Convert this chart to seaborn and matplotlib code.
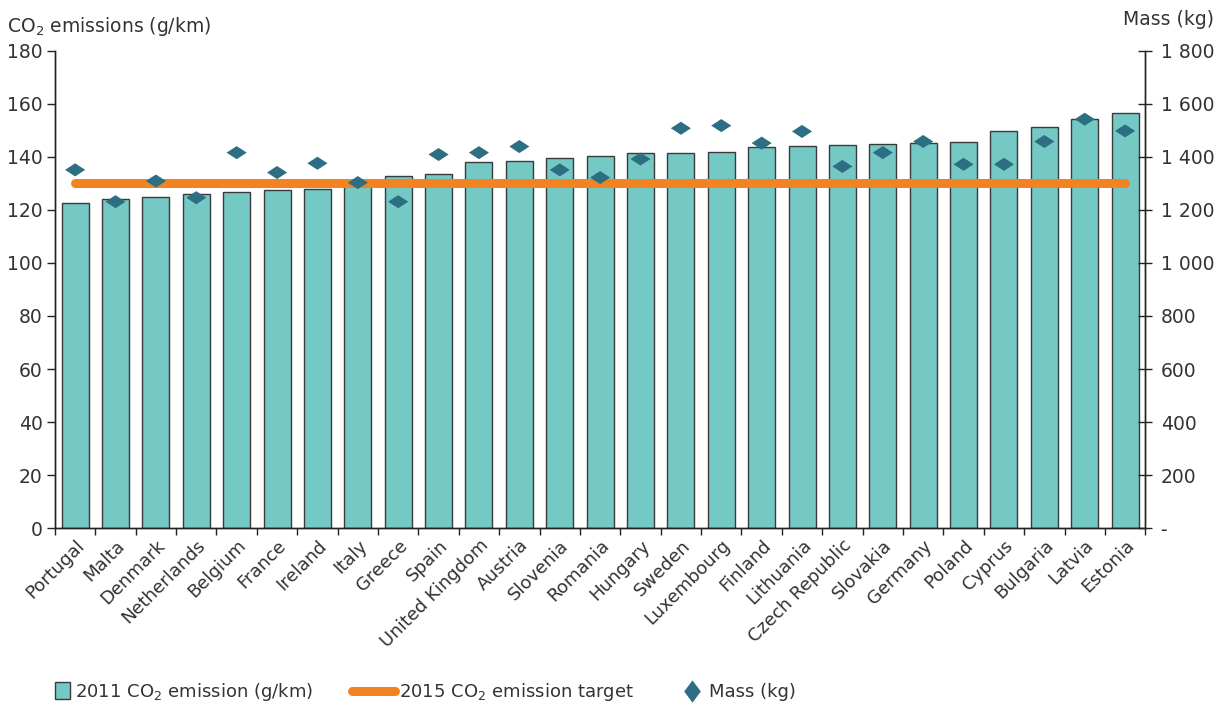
import numpy as np
import pandas as pd
import matplotlib
matplotlib.use('Agg')
import matplotlib.pyplot as plt
import seaborn as sns
from matplotlib.ticker import FixedLocator, FuncFormatter

countries = ['Portugal', 'Malta', 'Denmark', 'Netherlands', 'Belgium', 'France',
             'Ireland', 'Italy', 'Greece', 'Spain', 'United Kingdom', 'Austria',
             'Slovenia', 'Romania', 'Hungary', 'Sweden', 'Luxembourg', 'Finland',
             'Lithuania', 'Czech Republic', 'Slovakia', 'Germany', 'Poland',
             'Cyprus', 'Bulgaria', 'Latvia', 'Estonia']
co2_2011 = [122.5, 124.3, 124.8, 125.9, 126.9, 127.4, 127.9, 129.4, 132.8, 133.5,
            137.9, 138.5, 139.5, 140.5, 141.5, 141.6, 141.9, 143.8, 144.0, 144.3,
            144.7, 145.4, 145.8, 149.6, 151.1, 154.2, 156.5]
mass_kg = [1351, 1231, 1309, 1246, 1416, 1341, 1376, 1303, 1231, 1409,
           1416, 1439, 1351, 1322, 1392, 1508, 1518, 1452, 1496, 1364,
           1416, 1458, 1372, 1372, 1458, 1542, 1498]
target_2015 = 130

df = pd.DataFrame({'country': countries, 'co2': co2_2011, 'mass': mass_kg})

sns.set_style('white')
plt.rcParams['font.family'] = ['DejaVu Sans']
txt = '#333333'
bar_col = '#74C9C5'
line_col = '#F28322'
dot_col = '#2E6E82'

fig = plt.figure(figsize=(12.21, 7.06), dpi=100)
ax = fig.add_axes([0.045, 0.252, 0.893, 0.676])

sns.barplot(data=df, x='country', y='co2', color=bar_col, saturation=1,
            width=0.67, edgecolor='#3a3a3a', linewidth=1, ax=ax, zorder=2)
ax.plot(df['country'], [target_2015] * len(df), color=line_col,
        linewidth=6.5, solid_capstyle='round', zorder=3)

ax2 = ax.twinx()
diamond = [(-1, 0), (0, 0.65), (1, 0), (0, -0.65), (-1, 0)]
sns.scatterplot(data=df, x='country', y='mass', marker=diamond, s=210,
                color=dot_col, edgecolor='none', ax=ax2, zorder=4)

ax.set_xlim(-0.5, len(df) - 0.5)
ax.set_ylim(0, 180)
ax.set_yticks(range(0, 181, 20))
ax2.set_ylim(0, 1800)
ax2.set_yticks(range(0, 1801, 200))
ax2.yaxis.set_major_formatter(FuncFormatter(
    lambda v, p: '-' if v == 0 else f'{int(v):,}'.replace(',', ' ')))

for a in (ax, ax2):
    a.set_xlabel('')
    a.set_ylabel('')
    a.spines['top'].set_visible(False)
    for s in ['left', 'right', 'bottom']:
        a.spines[s].set_color('#222222')
        a.spines[s].set_linewidth(1)

ax.tick_params(axis='y', direction='out', length=6, width=1, color='#222222',
               labelsize=13.5, labelcolor=txt, left=True, pad=3)
ax2.tick_params(axis='y', direction='inout', length=10, width=1, color='#222222',
                labelsize=13.5, labelcolor=txt, right=True, pad=6)

# category labels, ticks sit on the bar boundaries
ax.xaxis.set_minor_locator(FixedLocator(np.arange(-0.5, len(df), 1)))
ax.tick_params(axis='x', which='major', length=0, labelsize=13,
               labelcolor=txt, pad=6)
ax.tick_params(axis='x', which='minor', direction='out', length=5, width=1,
               color='#222222', bottom=True)
plt.setp(ax.get_xticklabels(), rotation=45, ha='right', rotation_mode='anchor')

fig.text(0.006, 0.962, 'CO$_2$ emissions (g/km)', fontsize=13.5, color=txt,
         ha='left', va='center')
fig.text(0.994, 0.972, 'Mass (kg)', fontsize=13.5, color=txt,
         ha='right', va='center')

# legend: three pieces so each handle gets its own length
bar_h = plt.Rectangle((0, 0), 1, 1, facecolor=bar_col, edgecolor='#3a3a3a')
line_h = plt.Line2D([], [], color=line_col, linewidth=6.5, solid_capstyle='round')
leg_diamond = [(0, -1), (0.75, 0), (0, 1), (-0.75, 0), (0, -1)]
mass_h = plt.Line2D([], [], marker=leg_diamond, markersize=16, linestyle='none',
                    color=dot_col, markeredgecolor='none')
leg_kw = dict(loc='center left', frameon=False, fontsize=13, labelcolor=txt,
              handletextpad=0.25, borderaxespad=0, borderpad=0)
fig.legend([bar_h], ['2011 CO$_2$ emission (g/km)'],
           bbox_to_anchor=(0.045, 0.02), handlelength=0.85, handleheight=1.1, **leg_kw)
fig.legend([line_h], ['2015 CO$_2$ emission target'],
           bbox_to_anchor=(0.288, 0.02), handlelength=2.4, **leg_kw)
fig.legend([mass_h], ['Mass (kg)'],
           bbox_to_anchor=(0.556, 0.02), handlelength=1.4, **leg_kw)

fig.savefig('out.png', dpi=100)
